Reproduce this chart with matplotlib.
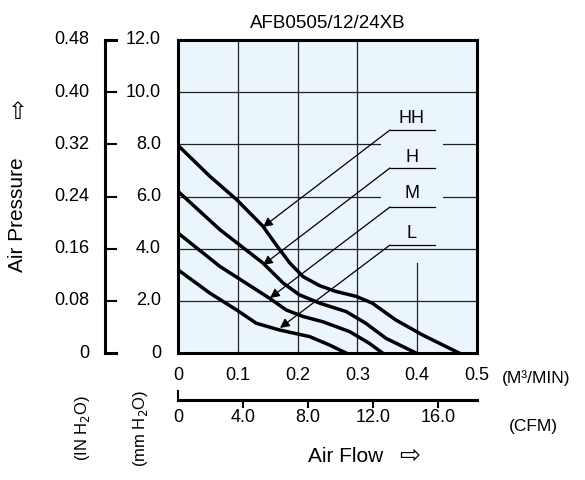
import matplotlib
matplotlib.use("Agg")
import matplotlib.pyplot as plt
from matplotlib.transforms import blended_transform_factory as btf

plt.rcParams['font.family'] = ['Liberation Sans', 'DejaVu Sans']

title = "AFB0505/12/24XB"
hh_x = [0, 0.053, 0.098, 0.142, 0.164, 0.187, 0.209, 0.237, 0.264, 0.298, 0.325, 0.364, 0.409, 0.47]
hh_y = [7.96, 6.78, 5.88, 4.86, 4.15, 3.45, 2.93, 2.58, 2.36, 2.17, 1.91, 1.27, 0.69, 0]
h_x = [0, 0.07, 0.142, 0.176, 0.203, 0.237, 0.281, 0.314, 0.348, 0.398]
h_y = [6.2, 4.73, 3.45, 2.68, 2.23, 1.91, 1.59, 1.14, 0.56, 0]
m_x = [0, 0.07, 0.153, 0.181, 0.209, 0.242, 0.287, 0.32, 0.342]
m_y = [4.6, 3.32, 2.1, 1.65, 1.40, 1.2, 0.82, 0.37, 0]
l_x = [0, 0.053, 0.098, 0.131, 0.17, 0.22, 0.253, 0.281]
l_y = [3.19, 2.3, 1.65, 1.14, 0.88, 0.63, 0.31, 0]
mm_ticks = [0, 2.0, 4.0, 6.0, 8.0, 10.0, 12.0]
mm_labels = ["0", "2.0", "4.0", "6.0", "8.0", "10.0", "12.0"]
in_labels = ["0", "0.08", "0.16", "0.24", "0.32", "0.40", "0.48"]
m3_ticks = [0, 0.1, 0.2, 0.3, 0.4, 0.5]
m3_labels = ["0", "0.1", "0.2", "0.3", "0.4", "0.5"]
cfm_ticks = [0, 4.0, 8.0, 12.0, 16.0]
cfm_labels = ["0", "4.0", "8.0", "12.0", "16.0"]
cfm_to_m3 = 0.0272

W, H = 585, 480
fig = plt.figure(figsize=(W/100, H/100), dpi=100)
L, R, T, B = 178, 477, 40, 353
ax = fig.add_axes([L/W, 1-B/H, (R-L)/W, (B-T)/H])
ax.set_xlim(0, 0.5); ax.set_ylim(0, 12)
ax.set_facecolor('#eaf5fc')
for s in ax.spines.values():
    s.set_linewidth(2.2)
    s.set_zorder(6)
ax.set_xticks([]); ax.set_yticks([])

def dx(p): return (p-L)/(R-L)*0.5
def dy(p): return (B-p)/(B-T)*12

for x in [0.1, 0.2, 0.3]:
    ax.axvline(x, color='#222', lw=0.9, zorder=1)
ax.plot([0.4, 0.4], [0, dy(263)], color='#222', lw=0.9, zorder=1)
for y in [2, 4, 6, 8, 10]:
    ax.axhline(y, color='#222', lw=0.9, zorder=1)

for xs, ys in [(hh_x, hh_y), (h_x, h_y), (m_x, m_y), (l_x, l_y)]:
    ax.plot(xs, ys, color='black', lw=2.5, solid_joinstyle='round', zorder=3)

labels = [("HH", 118, 130, (263, 227)), ("H", 157, 168, (263, 265)),
          ("M", 193, 207, (270, 298)), ("L", 233, 245, (280, 328))]
for name, ty, uy, tip in labels:
    ax.add_patch(plt.Rectangle((dx(381), dy(uy+1)), dx(443)-dx(381), dy(uy-30)-dy(uy+1),
                               facecolor='#eaf5fc', edgecolor='none', zorder=2))
    ax.text(dx(412), dy(ty), name, ha='center', va='center', fontsize=13, zorder=4)
    ax.plot([dx(435), dx(390)], [dy(uy), dy(uy)], color='black', lw=0.9, zorder=4)
    ax.annotate("", xy=(dx(tip[0]), dy(tip[1])), xytext=(dx(390), dy(uy)),
                arrowprops=dict(arrowstyle='-|>', color='black', lw=0.9,
                                mutation_scale=14, shrinkA=0, shrinkB=0), zorder=4)

ax.text(0.5, 1.025, title, transform=ax.transAxes, ha='center', va='bottom', fontsize=13.5)

tl = btf(fig.transFigure, ax.transData)
fx = lambda p: p/W
fy = lambda p: 1-p/H
ax.plot([fx(105)]*2, [0, 12], transform=tl, color='black', lw=2.2, clip_on=False)
for v, mlab, ilab in zip(mm_ticks, mm_labels, in_labels):
    ax.plot([fx(105), fx(116)], [v, v], transform=tl, color='black',
            lw=1.5 if 0 < v < 12 else 2.2, clip_on=False)
    ax.text(fx(161), v, mlab, transform=tl, ha='right', va='center', fontsize=13)
    ax.text(fx(89), v, ilab, transform=tl, ha='right', va='center', fontsize=13)
fig.text(fx(18), fy(215), "Air Pressure", rotation=90, ha='center', va='center', fontsize=15)
fig.text(fx(18), fy(112), "\u21e7", rotation=0, ha='center', va='center', fontsize=17,
         family=['DejaVu Sans'])
fig.text(fx(82), fy(428), "(IN H$_2$O)", rotation=90, ha='center', va='center', fontsize=12)
fig.text(fx(140), fy(428), "(mm H$_2$O)", rotation=90, ha='center', va='center', fontsize=12)

tb = btf(ax.transData, fig.transFigure)
for v, lab in zip(m3_ticks, m3_labels):
    ax.text(v, fy(375), lab, transform=tb, ha='center', va='center', fontsize=13)
ax.text(0.5+dx(503)-dx(478), fy(378), "(M\u00b3/MIN)", transform=tb, ha='left', va='center', fontsize=12.5)
ax.plot([0, 0.5], [fy(400), fy(400)], transform=tb, color='black', lw=2.2, clip_on=False)
for v, lab in zip(cfm_ticks, cfm_labels):
    x = v*cfm_to_m3
    ax.plot([x, x], [fy(400), fy(391) if v == 0 else fy(407)], transform=tb, color='black', lw=1.5, clip_on=False)
    ax.text(x, fy(418), lab, transform=tb, ha='center', va='center', fontsize=13)
ax.text(0.5+dx(510)-dx(478), fy(426), "(CFM)", transform=tb, ha='left', va='center', fontsize=12.5)
fig.text(fx(346), fy(457), "Air Flow", ha='center', va='center', fontsize=15)
fig.text(fx(410), fy(456), "\u21e8", ha='center', va='center', fontsize=18, family=['DejaVu Sans'])

fig.savefig("out.png", dpi=100)
